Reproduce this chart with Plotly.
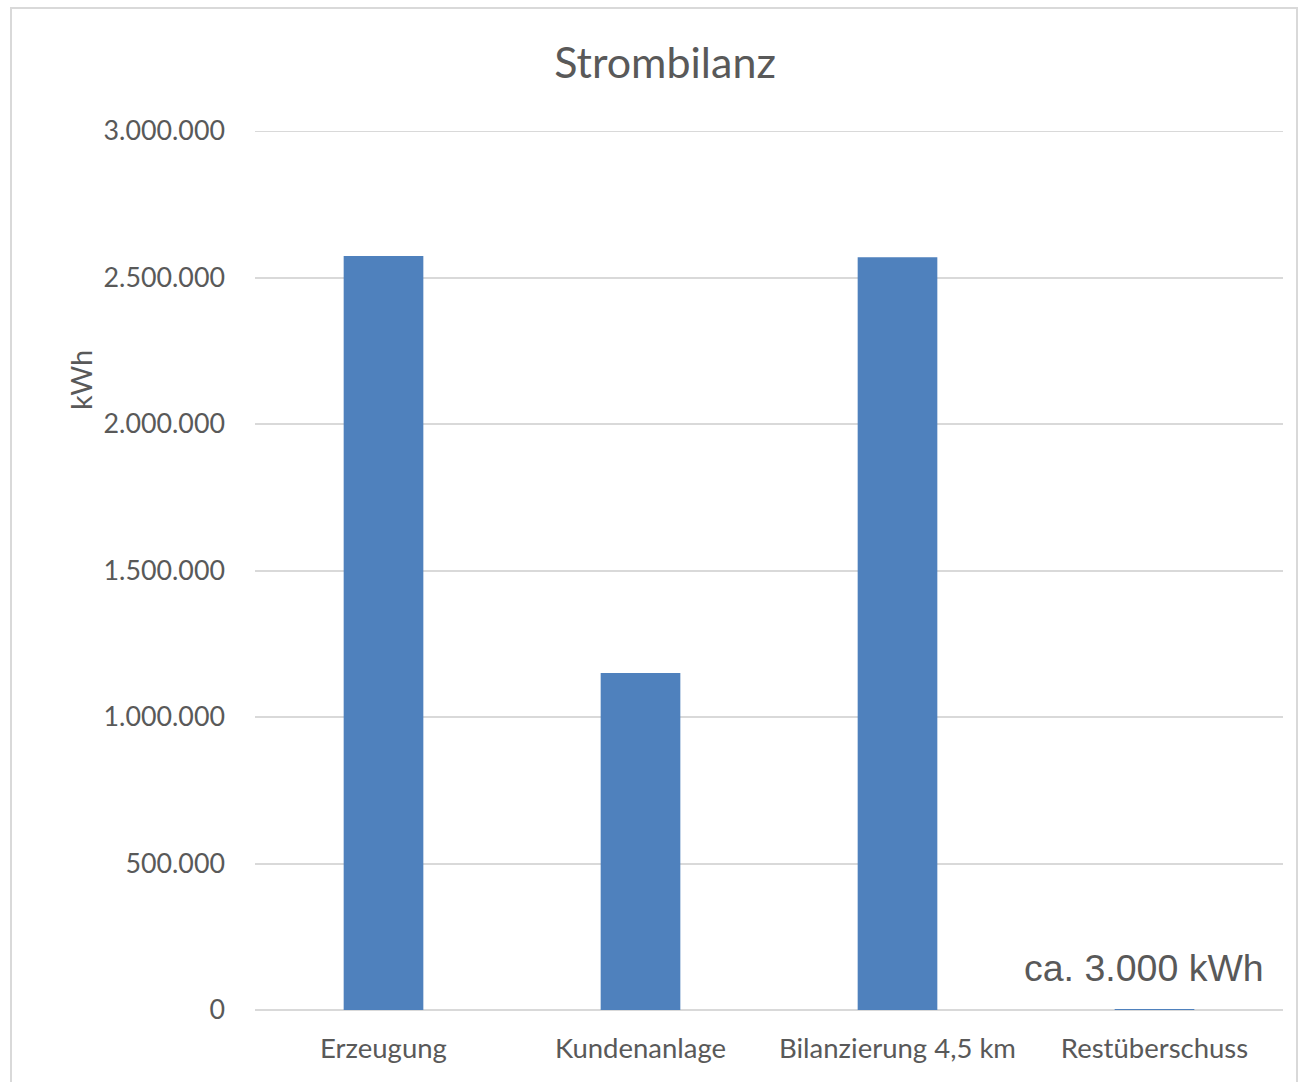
import plotly.graph_objects as go

# Strombilanz – annual energy balance in kWh
categories = ["Erzeugung", "Kundenanlage", "Bilanzierung 4,5 km", "Restüberschuss"]
values_kwh = [2573000, 1150000, 2569000, 3000]

y_tickvals = [0, 500000, 1000000, 1500000, 2000000, 2500000, 3000000]
y_ticktext = ["0", "500.000", "1.000.000", "1.500.000", "2.000.000", "2.500.000", "3.000.000"]

W, H = 1298, 1082
L, R, T, B = 255, 15, 131, 72
TEXT = "#595959"
GRID = "#D9D9D9"
FONT = "Lato, 'Open Sans', sans-serif"

fig = go.Figure(
    go.Bar(
        x=categories,
        y=values_kwh,
        marker=dict(color="#4F81BD", line=dict(width=0)),
        width=0.31,
        hoverinfo="x+y",
    )
)

pw = W - L - R
ph = H - T - B


def px_x(x):
    return (x - L) / pw


def px_y(y):
    return (H - B - y) / ph


fig.update_layout(
    width=W,
    height=H,
    margin=dict(l=L, r=R, t=T, b=B, autoexpand=False),
    paper_bgcolor="white",
    plot_bgcolor="white",
    font=dict(family=FONT, color=TEXT, size=27),
    showlegend=False,
    title=dict(
        text="Strombilanz",
        x=665 / W,
        xanchor="center",
        y=1 - 63 / H,
        yanchor="middle",
        yref="container",
        font=dict(family=FONT, size=43, color=TEXT),
    ),
    xaxis=dict(
        showgrid=False,
        showline=False,
        zeroline=False,
        ticks="",
        tickfont=dict(family=FONT, size=27.5, color=TEXT),
        ticklabelstandoff=19,
    ),
    yaxis=dict(
        range=[0, 3000000],
        tickvals=y_tickvals,
        ticktext=y_ticktext,
        showgrid=True,
        gridcolor=GRID,
        gridwidth=2,
        zeroline=True,
        zerolinecolor=GRID,
        zerolinewidth=2,
        showline=False,
        ticks="",
        tickfont=dict(family=FONT, size=26.8, color=TEXT),
        ticklabelstandoff=29,
    ),
    shapes=[
        # outer chart frame
        dict(
            type="rect",
            xref="paper",
            yref="paper",
            x0=px_x(11),
            x1=px_x(1297),
            y0=px_y(1095),
            y1=px_y(8),
            line=dict(color=GRID, width=2),
            fillcolor="rgba(0,0,0,0)",
            layer="below",
        ),
        # top gridline at the axis maximum
        dict(
            type="line",
            xref="paper",
            yref="y",
            x0=0,
            x1=1,
            y0=y_tickvals[-1],
            y1=y_tickvals[-1],
            line=dict(color=GRID, width=2),
            layer="below",
        ),
    ],
    annotations=[
        dict(
            text="kWh",
            xref="paper",
            yref="paper",
            x=px_x(80),
            y=px_y(380),
            textangle=-90,
            showarrow=False,
            xanchor="center",
            yanchor="middle",
            font=dict(family=FONT, size=29, color=TEXT),
        ),
        dict(
            text="ca. 3.000 kWh",
            xref="paper",
            yref="paper",
            x=px_x(1266),
            y=px_y(968),
            showarrow=False,
            xanchor="right",
            yanchor="middle",
            font=dict(family="'Liberation Sans', Arial, sans-serif", size=37.5, color=TEXT),
        ),
    ],
)

fig.write_html("out.html")
